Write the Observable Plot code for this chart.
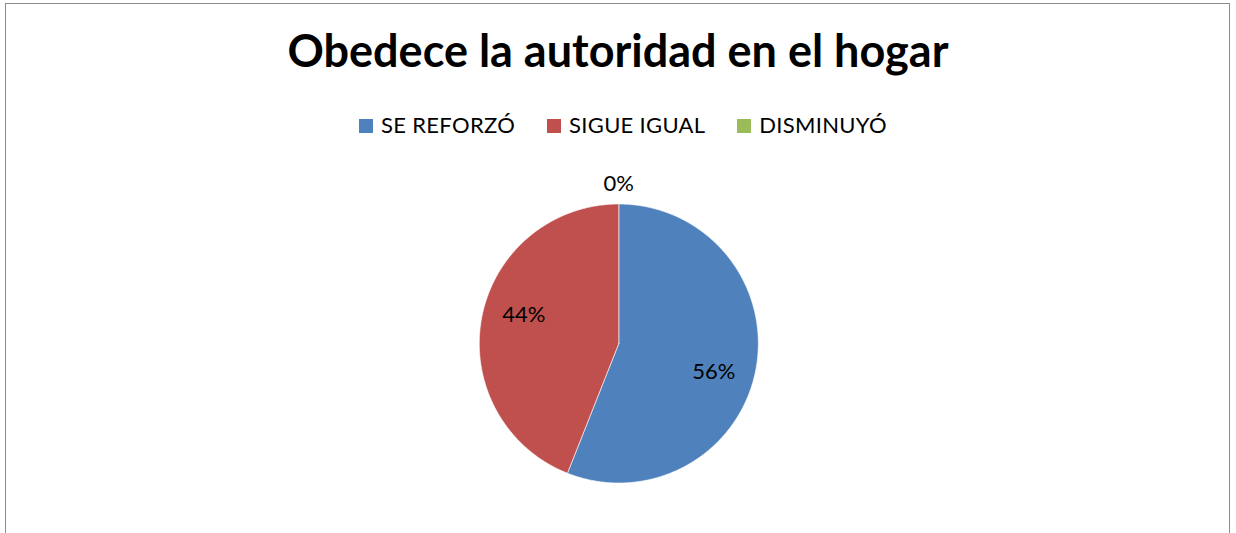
<!DOCTYPE html>
<html>
<head>
<meta charset="utf-8">
<script src="https://cdn.jsdelivr.net/npm/d3@7"></script>
<script src="https://cdn.jsdelivr.net/npm/@observablehq/plot@0.6"></script>
<style>
  html, body { margin: 0; padding: 0; background: #fff; }
  #page { position: relative; width: 1236px; height: 533px; overflow: hidden; font-family: Lato, "Open Sans", sans-serif; color: #000; }
  #frame { position: absolute; left: 5px; top: 3px; width: 1225px; height: 700px; border: 1.5px solid #8c8c8c; box-sizing: border-box; }
  #content { position: absolute; left: 0; top: 0; width: 1236px; padding-top: 23px; }
  #title { font-weight: 700; font-size: 45px; line-height: 54px; text-align: center; height: 54px; }
  #legend { display: flex; justify-content: center; margin-top: 34.5px; height: 26px; font-size: 22px; line-height: 26px; letter-spacing: 0.3px; padding-left: 10px; margin-bottom: 12.5px; }
  .item { display: flex; align-items: baseline; margin: 0 16px; }
  .sw { display: inline-block; width: 14px; height: 14px; margin-right: 8px; }
  svg { display: block; }
</style>
</head>
<body>
<div id="page">
  <div id="frame"></div>
  <div id="content">
    <div id="title"></div>
    <div id="legend"></div>
    <div id="chart"></div>
  </div>
</div>
<script>
const titleText = "Obedece la autoridad en el hogar";
const categories = ["SE REFORZÓ", "SIGUE IGUAL", "DISMINUYÓ"];
const values = [56, 44, 0];
const labels = ["56%", "44%", "0%"];
const colors = ["#4F81BD", "#C0504D", "#9BBB59"];

document.getElementById("title").textContent = titleText;
const legend = document.getElementById("legend");
categories.forEach((c, i) => {
  const it = document.createElement("div");
  it.className = "item";
  const sw = document.createElement("span");
  sw.className = "sw";
  sw.style.background = colors[i];
  const tx = document.createElement("span");
  tx.textContent = c;
  it.appendChild(sw);
  it.appendChild(tx);
  legend.appendChild(it);
});

// Layout of the chart SVG
const W = 1236, H = 383;
const cx = 618.3, cy = 193, R = 139.5;

const arcs = d3.pie().sort(null).value(d => d)(values);

// Build slice polygons (unit circle, y up, angle 0 at 12 o'clock, clockwise)
const slicePts = [];
arcs.forEach((a, i) => {
  if (a.endAngle - a.startAngle <= 0) return;
  const cat = categories[i];
  slicePts.push({category: cat, x: 0, y: 0});
  const n = Math.max(2, Math.ceil((a.endAngle - a.startAngle) / (Math.PI / 360)));
  for (let k = 0; k <= n; k++) {
    const t = a.startAngle + (a.endAngle - a.startAngle) * k / n;
    slicePts.push({category: cat, x: Math.sin(t), y: Math.cos(t)});
  }
  slicePts.push({category: cat, x: 0, y: 0});
});

const insideR = 0.71, insideShift = 0.1, outsideR = 1.147;
const labelData = arcs.map((a, i) => {
  const zero = a.endAngle - a.startAngle <= 0;
  const t = (a.startAngle + a.endAngle) / 2 + (zero ? 0 : insideShift);
  const r = zero ? outsideR : insideR;
  return {text: labels[i], x: r * Math.sin(t), y: r * Math.cos(t)};
});

const chart = Plot.plot({
  width: W,
  height: H,
  margin: 0,
  style: {background: "transparent", fontFamily: "Lato, 'Open Sans', sans-serif"},
  x: {domain: [-cx / R, (W - cx) / R], axis: null},
  y: {domain: [-(H - cy) / R, cy / R], axis: null},
  color: {domain: categories, range: colors},
  marks: [
    Plot.line(slicePts, {x: "x", y: "y", z: "category", fill: "category", stroke: "#ffffff", strokeWidth: 1, strokeOpacity: 0.6, curve: "linear"}),
    Plot.text(labelData, {x: "x", y: "y", text: "text", fontSize: 22, letterSpacing: 0.8, fill: "#000"})
  ]
});
document.getElementById("chart").appendChild(chart);
</script>
</body>
</html>
